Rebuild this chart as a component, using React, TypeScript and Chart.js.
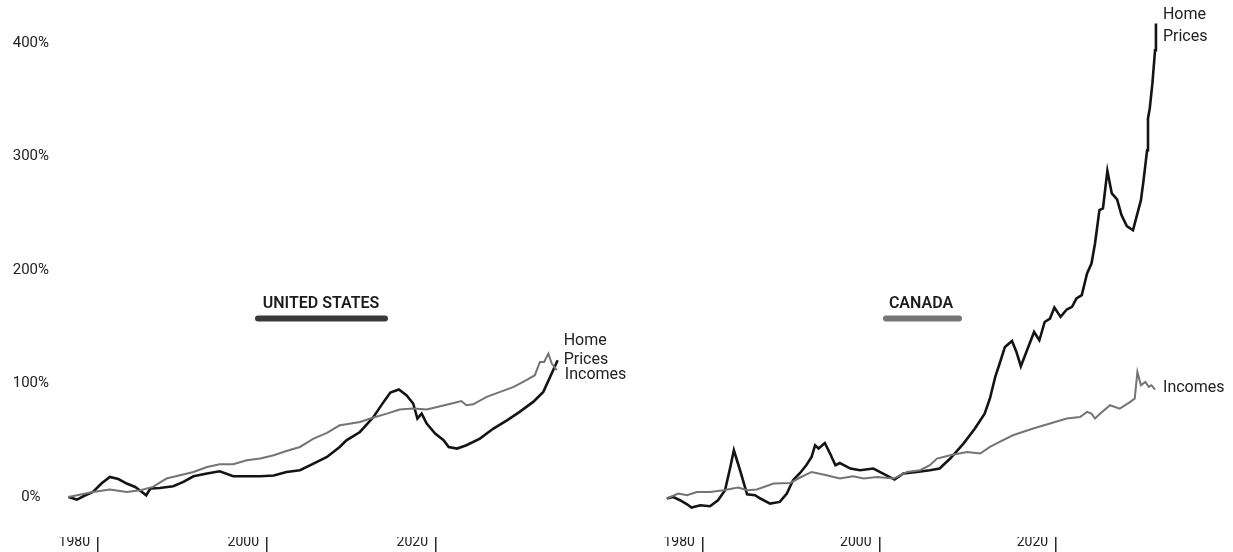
import React, { useEffect, useRef } from 'react';
import { Chart, registerables } from 'chart.js';

Chart.register(...registerables);

// ---------- tick labels ----------
const yTickValues = [0, 100, 200, 300, 400];
const xTickYears = [1980, 2000, 2020];

// ---------- United States ----------
const usHomeYears = [1976.5, 1977.5, 1978.5, 1979.4, 1980.4, 1981.4, 1982.4, 1983.4, 1984.4, 1985.2, 1985.7, 1986.2, 1987.3, 1988.9, 1990.1, 1991.3, 1992.9, 1994.4, 1996.0, 1997.6, 1999.2, 2000.8, 2002.3, 2003.9, 2005.5, 2007.1, 2008.6, 2009.4, 2011.0, 2012.6, 2013.8, 2014.6, 2015.6, 2016.5, 2017.3, 2017.8, 2018.3, 2018.9, 2019.9, 2020.9, 2021.5, 2022.5, 2023.6, 2025.2, 2026.8, 2028.4, 2029.9, 2031.5, 2032.7, 2033.5, 2034.4];
const usHomeValues = [0.3, -2.0, 1.8, 4.7, 12.1, 17.9, 16.1, 12.1, 9.1, 4.7, 1.8, 7.7, 8.2, 9.7, 13.5, 18.5, 20.9, 22.9, 18.5, 18.5, 18.5, 19.1, 22.3, 23.8, 29.7, 35.5, 44.3, 50.2, 57.5, 70.7, 84.0, 92.2, 94.9, 89.9, 82.6, 69.3, 73.7, 64.9, 56.1, 50.2, 44.3, 42.9, 45.8, 51.7, 60.5, 67.8, 75.2, 84.0, 92.8, 106.0, 120.7];

const usIncomeYears = [1976.5, 1979.4, 1981.4, 1983.4, 1985.0, 1986.5, 1988.1, 1989.7, 1991.3, 1992.9, 1994.4, 1996.0, 1997.6, 1999.2, 2000.8, 2002.3, 2003.9, 2005.5, 2007.1, 2008.6, 2009.4, 2011.0, 2012.6, 2014.2, 2015.7, 2017.3, 2018.9, 2020.5, 2022.1, 2023.0, 2023.6, 2024.4, 2026.0, 2027.6, 2029.2, 2030.7, 2031.7, 2032.3, 2032.8, 2033.3, 2033.7, 2034.3];
const usIncomeValues = [0.3, 4.7, 6.8, 4.7, 6.2, 9.1, 16.5, 19.4, 22.3, 26.7, 29.1, 29.1, 32.6, 34.1, 37.0, 40.8, 44.3, 51.7, 56.7, 63.4, 64.3, 66.3, 70.2, 73.7, 77.3, 78.1, 77.3, 80.2, 83.1, 84.8, 81.1, 81.9, 88.4, 92.8, 97.2, 103.1, 107.5, 119.2, 119.2, 126.6, 117.8, 111.9];

// ---------- Canada ----------
const caHomeYears = [1975.9, 1976.6, 1977.4, 1978.2, 1978.7, 1979.7, 1980.8, 1981.7, 1982.5, 1983.1, 1983.5, 1984.2, 1985.0, 1985.9, 1986.5, 1987.6, 1988.7, 1989.5, 1990.2, 1991.0, 1991.7, 1992.3, 1992.7, 1993.1, 1993.8, 1994.4, 1995.0, 1995.5, 1996.7, 1997.8, 1999.3, 2000.4, 2001.7, 2002.7, 2004.2, 2005.7, 2006.8, 2008.0, 2009.5, 2010.8, 2011.9, 2012.5, 2013.1, 2013.6, 2014.2, 2015.0, 2015.5, 2016.0, 2016.7, 2017.5, 2018.1, 2018.7, 2019.3, 2019.8, 2020.5, 2021.2, 2021.8, 2022.3, 2022.9, 2023.5, 2024.0, 2024.4, 2024.9, 2025.3, 2025.8, 2026.3, 2026.9, 2027.4, 2028.0, 2028.7, 2029.1, 2029.6, 2029.9, 2030.3, 2030.4, 2030.6, 2030.9, 2031.2, 2031.3];
const caHomeValues = [-1.1, 0.3, -2.6, -6.2, -9.1, -7.0, -7.9, -2.6, 6.2, 26.7, 41.4, 23.8, 2.6, 1.8, -1.1, -5.6, -4.1, 3.3, 15.0, 21.4, 28.2, 35.5, 45.8, 42.9, 47.8, 38.5, 28.2, 30.2, 25.3, 23.8, 25.3, 20.9, 15.6, 20.9, 22.3, 23.8, 25.3, 34.1, 47.3, 60.5, 73.7, 87.0, 106.0, 117.8, 132.4, 137.7, 128.0, 115.4, 129.5, 145.6, 138.3, 154.4, 157.4, 167.1, 158.9, 165.4, 167.7, 175.1, 178.0, 197.1, 205.9, 223.5, 252.9, 254.4, 287.5, 267.6, 262.3, 248.5, 238.8, 235.2, 247.0, 261.7, 279.3, 305.7, 333.7, 342.5, 364.5, 393.8, 417.4];

const caIncomeYears = [1975.9, 1977.2, 1978.2, 1979.3, 1980.8, 1982.3, 1984.0, 1985.0, 1986.1, 1988.0, 1989.9, 1991.0, 1992.3, 1994.0, 1995.5, 1997.0, 1998.2, 1999.7, 2001.6, 2003.1, 2004.6, 2005.7, 2006.5, 2008.0, 2009.9, 2011.4, 2012.5, 2013.6, 2015.1, 2017.4, 2019.3, 2021.2, 2022.7, 2023.5, 2024.0, 2024.4, 2025.0, 2026.1, 2027.2, 2028.4, 2028.9, 2029.2, 2029.6, 2030.1, 2030.5, 2030.8, 2031.2];
const caIncomeValues = [-1.1, 3.3, 1.8, 4.7, 4.7, 6.2, 8.5, 6.2, 6.8, 12.1, 12.6, 17.4, 22.3, 19.4, 16.5, 18.5, 16.5, 17.9, 16.5, 22.3, 23.8, 28.2, 34.1, 37.0, 39.9, 38.5, 44.3, 48.7, 54.6, 60.5, 64.9, 69.3, 70.7, 75.2, 73.7, 69.3, 73.7, 81.1, 78.1, 84.0, 87.0, 110.4, 98.7, 101.6, 97.2, 98.7, 94.9];

const FONT = 'Roboto, "Open Sans", sans-serif';
const HOME_COLOR = '#141414';
const INCOME_COLOR = '#747474';

const toPoints = (xs: number[], ys: number[]) => xs.map((x, i) => ({ x, y: ys[i] }));

type LabelSpec = { ds: number; lines: string[]; dx: number; dy: number; gap: number };
type PanelSpec = {
  title: string;
  titleX: number;
  titleY: number;
  barX1: number;
  barX2: number;
  barY: number;
  barColor: string;
  labels: LabelSpec[];
};

const annotationPlugin = (spec: PanelSpec) => ({
  id: 'panelAnnotations',
  afterDraw(chart: any) {
    const ctx = chart.ctx;
    ctx.save();
    ctx.font = `600 16px ${FONT}`;
    ctx.fillStyle = '#1c1c1c';
    ctx.textAlign = 'center';
    ctx.textBaseline = 'middle';
    ctx.fillText(spec.title, spec.titleX, spec.titleY);
    ctx.lineCap = 'round';
    ctx.lineWidth = 6;
    ctx.strokeStyle = spec.barColor;
    ctx.beginPath();
    ctx.moveTo(spec.barX1, spec.barY);
    ctx.lineTo(spec.barX2, spec.barY);
    ctx.stroke();

    ctx.font = `400 16px ${FONT}`;
    ctx.fillStyle = '#222';
    ctx.textAlign = 'left';
    for (const l of spec.labels) {
      const pts = chart.getDatasetMeta(l.ds).data;
      const last = pts[pts.length - 1];
      l.lines.forEach((t, i) => {
        ctx.fillText(t, last.x + l.dx, last.y + l.dy + i * l.gap);
      });
    }
    ctx.restore();
  },
});

function makeConfig(
  home: { x: number; y: number }[],
  income: { x: number; y: number }[],
  xMin: number,
  xMax: number,
  showY: boolean,
  padLeft: number,
  padRight: number,
  spec: PanelSpec
): any {
  return {
    type: 'line',
    data: {
      datasets: [
        {
          label: 'Incomes',
          data: income,
          borderColor: INCOME_COLOR,
          borderWidth: 2,
          pointRadius: 0,
          tension: 0,
          clip: false,
        },
        {
          label: 'Home Prices',
          data: home,
          borderColor: HOME_COLOR,
          borderWidth: 2.6,
          pointRadius: 0,
          tension: 0,
          clip: false,
        },
      ],
    },
    options: {
      animation: false,
      responsive: false,
      devicePixelRatio: 1,
      layout: { padding: { left: padLeft, right: padRight, top: 0, bottom: 0 } },
      plugins: { legend: { display: false }, tooltip: { enabled: false }, title: { display: false } },
      scales: {
        x: {
          type: 'linear',
          min: xMin,
          max: xMax,
          afterBuildTicks: (s: any) => {
            s.ticks = xTickYears.map((v) => ({ value: v }));
          },
          afterFit: (s: any) => {
            s.height = 15;
            s.paddingLeft = 0;
            s.paddingRight = 0;
          },
          ticks: {
            callback: (v: any) => String(v),
            align: 'end',
            labelOffset: -8,
            padding: -18,
            maxRotation: 0,
            autoSkip: false,
            color: '#222',
            font: { family: FONT, size: 14 },
          },
          grid: {
            display: true,
            drawOnChartArea: false,
            drawTicks: true,
            tickLength: 15,
            color: '#2a2a2a',
            lineWidth: 1.5,
          },
          border: { display: false },
        },
        y: {
          type: 'linear',
          display: showY,
          min: -35,
          max: 438,
          afterBuildTicks: (s: any) => {
            s.ticks = yTickValues.map((v) => ({ value: v }));
          },
          afterFit: (s: any) => {
            s.width = showY ? 60 : 0;
            s.paddingTop = 0;
            s.paddingBottom = 0;
          },
          ticks: {
            callback: (v: any) => `${v}%`,
            crossAlign: 'center',
            padding: 11,
            color: '#222',
            font: { family: FONT, size: 15 },
          },
          grid: { display: false, drawTicks: false, tickLength: 0 },
          border: { display: false },
        },
      },
    },
    plugins: [annotationPlugin(spec)],
  };
}

const usSpec: PanelSpec = {
  title: 'UNITED STATES',
  titleX: 321,
  titleY: 304,
  barX1: 258,
  barX2: 385,
  barY: 318.5,
  barColor: '#3a3a3a',
  labels: [
    { ds: 1, lines: ['Home', 'Prices'], dx: 6, dy: -19, gap: 19 },
    { ds: 0, lines: ['Incomes'], dx: 8, dy: 5, gap: 0 },
  ],
};

const caSpec: PanelSpec = {
  title: 'CANADA',
  titleX: 281,
  titleY: 304,
  barX1: 246,
  barX2: 319,
  barY: 318.5,
  barColor: '#767676',
  labels: [
    { ds: 1, lines: ['Home', 'Prices'], dx: 7, dy: -8, gap: 22 },
    { ds: 0, lines: ['Incomes'], dx: 8, dy: -2, gap: 0 },
  ],
};

const LEFT_W = 640;
const RIGHT_W = 1233 - LEFT_W;

export default function App() {
  const leftRef = useRef<HTMLCanvasElement | null>(null);
  const rightRef = useRef<HTMLCanvasElement | null>(null);

  useEffect(() => {
    const left = new Chart(
      leftRef.current as HTMLCanvasElement,
      makeConfig(
        toPoints(usHomeYears, usHomeValues),
        toPoints(usIncomeYears, usIncomeValues),
        1975.5,
        2039.41,
        true,
        0,
        40,
        usSpec
      )
    );
    const right = new Chart(
      rightRef.current as HTMLCanvasElement,
      makeConfig(
        toPoints(caHomeYears, caHomeValues),
        toPoints(caIncomeYears, caIncomeValues),
        1972.87,
        2031.76,
        false,
        0,
        73,
        caSpec
      )
    );
    return () => {
      left.destroy();
      right.destroy();
    };
  }, []);

  return (
    <div style={{ position: 'absolute', left: 0, top: 0, width: 1233, height: 552, background: '#fff', overflow: 'hidden' }}>
      <canvas ref={leftRef} width={LEFT_W} height={552} style={{ position: 'absolute', left: 0, top: 0, width: LEFT_W, height: 552 }} />
      <canvas ref={rightRef} width={RIGHT_W} height={552} style={{ position: 'absolute', left: LEFT_W, top: 0, width: RIGHT_W, height: 552 }} />
    </div>
  );
}
